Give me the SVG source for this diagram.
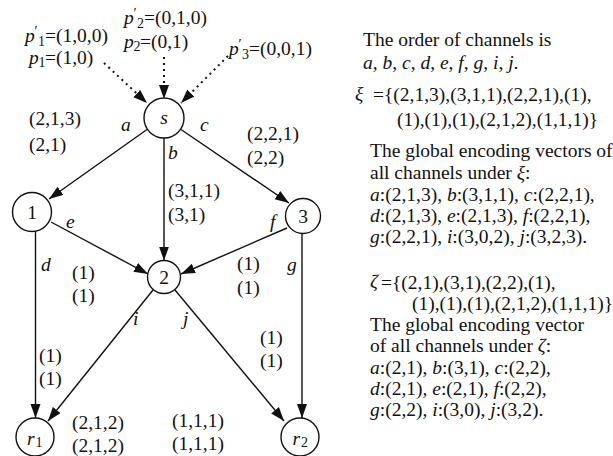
<svg xmlns="http://www.w3.org/2000/svg" width="613" height="456" viewBox="0 0 613 456">
<style>
text{font-family:"Liberation Serif","Times New Roman",serif;font-size:19.5px;fill:#111}
.i{font-style:italic}
.s{font-size:14px}
.c{text-anchor:middle}
.node circle{fill:#fff;stroke:#111;stroke-width:1.4}
.e{fill:none;stroke:#111;stroke-width:1.4;marker-end:url(#ah)}
.d{fill:none;stroke:#111;stroke-width:2;stroke-dasharray:2 4;marker-end:url(#ah)}
</style>
<defs>
<marker id="ah" markerUnits="userSpaceOnUse" markerWidth="15" markerHeight="11" refX="14" refY="5" orient="auto">
<path d="M0,0 L14,5 L0,10 Z" fill="#111"/>
</marker>
</defs>
<rect width="613" height="456" fill="#fff"/>
<g id="connectors">
<line class="d" x1="104" y1="63" x2="147" y2="103"/>
<line class="d" x1="164" y1="57" x2="164" y2="99"/>
<line class="d" x1="228" y1="56" x2="181" y2="103"/>
<line class="e" x1="147" y1="129.5" x2="49" y2="199"/>
<line class="e" x1="164" y1="138" x2="164" y2="260.5"/>
<line class="e" x1="181" y1="129.5" x2="289" y2="203"/>
<line class="e" x1="51" y1="222" x2="148" y2="274"/>
<line class="e" x1="287" y1="228" x2="181" y2="274"/>
<line class="e" x1="35.5" y1="231" x2="35.5" y2="418"/>
<line class="e" x1="302" y1="233" x2="302" y2="418"/>
<line class="e" x1="153" y1="290" x2="48" y2="421"/>
<line class="e" x1="175" y1="290" x2="284" y2="421"/>
</g>
<g id="node-s" class="node"><circle cx="164" cy="118" r="20"/><text class="i c" x="164" y="124">s</text></g>
<g id="node-1" class="node"><circle cx="32" cy="212" r="19.5"/><text class="c" x="32" y="218.5">1</text></g>
<g id="node-2" class="node"><circle cx="164" cy="277" r="16.5"/><text class="c" x="164" y="284">2</text></g>
<g id="node-3" class="node"><circle cx="303" cy="216" r="17.5"/><text class="c" x="303" y="223">3</text></g>
<g id="node-r1" class="node"><circle cx="35" cy="437" r="19"/><text y="445"><tspan class="i" x="27">r</tspan><tspan class="s" x="35.5" y="447">1</tspan></text></g>
<g id="node-r2" class="node"><circle cx="300" cy="437" r="19"/><text y="445"><tspan class="i" x="292.5">r</tspan><tspan class="s" x="301" y="447">2</tspan></text></g>
<g id="source-labels">
<text y="42"><tspan class="i" x="25">p</tspan><tspan class="s" x="34.5" y="36">′</tspan><tspan class="s" x="38" y="46">1</tspan><tspan x="45" y="42">=(1,0,0)</tspan></text>
<text y="64"><tspan class="i" x="29">p</tspan><tspan class="s" x="38.5" y="67">1</tspan><tspan x="45" y="64">=(1,0)</tspan></text>
<text y="24"><tspan class="i" x="124">p</tspan><tspan class="s" x="133.5" y="18">′</tspan><tspan class="s" x="137" y="27.5">2</tspan><tspan x="144" y="24">=(0,1,0)</tspan></text>
<text y="48"><tspan class="i" x="124">p</tspan><tspan class="s" x="133.5" y="50.5">2</tspan><tspan x="140" y="48">=(0,1)</tspan></text>
<text y="55"><tspan class="i" x="229">p</tspan><tspan class="s" x="238.5" y="49">′</tspan><tspan class="s" x="242" y="59">3</tspan><tspan x="249" y="55">=(0,0,1)</tspan></text>
</g>
<g id="edge-labels">
<text class="i" x="121" y="131">a</text>
<text class="i" x="168" y="159">b</text>
<text class="i" x="200" y="131">c</text>
<text class="i" x="41" y="271">d</text>
<text class="i" x="66" y="228">e</text>
<text class="i" x="270" y="228">f</text>
<text class="i" x="287" y="271">g</text>
<text class="i" x="133" y="325">i</text>
<text class="i" x="183" y="325">j</text>
<text x="29" y="125">(2,1,3)</text>
<text x="29" y="151">(2,1)</text>
<text x="247" y="140">(2,2,1)</text>
<text x="247" y="164">(2,2)</text>
<text x="168" y="197">(3,1,1)</text>
<text x="168" y="221">(3,1)</text>
<text x="72" y="279">(1)</text>
<text x="72" y="302">(1)</text>
<text x="237" y="270">(1)</text>
<text x="237" y="294">(1)</text>
<text x="39" y="362">(1)</text>
<text x="39" y="385">(1)</text>
<text x="260" y="344">(1)</text>
<text x="260" y="367">(1)</text>
<text x="72" y="429">(2,1,2)</text>
<text x="72" y="452">(2,1,2)</text>
<text x="172" y="427">(1,1,1)</text>
<text x="172" y="450">(1,1,1)</text>
</g>
<g id="notes">
<text x="363" y="46">The order of channels is</text>
<text x="363" y="69"><tspan class="i">a</tspan>, <tspan class="i">b</tspan>, <tspan class="i">c</tspan>, <tspan class="i">d</tspan>, <tspan class="i">e</tspan>, <tspan class="i">f</tspan>, <tspan class="i">g</tspan>, <tspan class="i">i</tspan>, <tspan class="i">j</tspan>.</text>
<text class="i" x="355" y="100">ξ</text>
<text x="373" y="101">={(2,1,3),(3,1,1),(2,2,1),(1),</text>
<text x="397" y="126">(1),(1),(1),(2,1,2),(1,1,1)}</text>
<text x="370" y="157">The global encoding vectors of</text>
<text x="370" y="179">all channels under <tspan class="i">ξ</tspan>:</text>
<text x="370" y="201"><tspan class="i">a</tspan>:(2,1,3), <tspan class="i">b</tspan>:(3,1,1), <tspan class="i">c</tspan>:(2,2,1),</text>
<text x="370" y="222"><tspan class="i">d</tspan>:(2,1,3), <tspan class="i">e</tspan>:(2,1,3), <tspan class="i">f</tspan>:(2,2,1),</text>
<text x="370" y="243"><tspan class="i">g</tspan>:(2,2,1), <tspan class="i">i</tspan>:(3,0,2), <tspan class="i">j</tspan>:(3,2,3).</text>
<text class="i" x="370" y="288">ζ</text>
<text x="381" y="289">={(2,1),(3,1),(2,2),(1),</text>
<text x="412" y="310">(1),(1),(1),(2,1,2),(1,1,1)}</text>
<text x="370" y="331">The global encoding vector</text>
<text x="370" y="352">of all channels under <tspan class="i">ζ</tspan>:</text>
<text x="370" y="374"><tspan class="i">a</tspan>:(2,1), <tspan class="i">b</tspan>:(3,1), <tspan class="i">c</tspan>:(2,2),</text>
<text x="370" y="395"><tspan class="i">d</tspan>:(2,1), <tspan class="i">e</tspan>:(2,1), <tspan class="i">f</tspan>:(2,2),</text>
<text x="370" y="416"><tspan class="i">g</tspan>:(2,2), <tspan class="i">i</tspan>:(3,0), <tspan class="i">j</tspan>:(3,2).</text>
</g>
</svg>
